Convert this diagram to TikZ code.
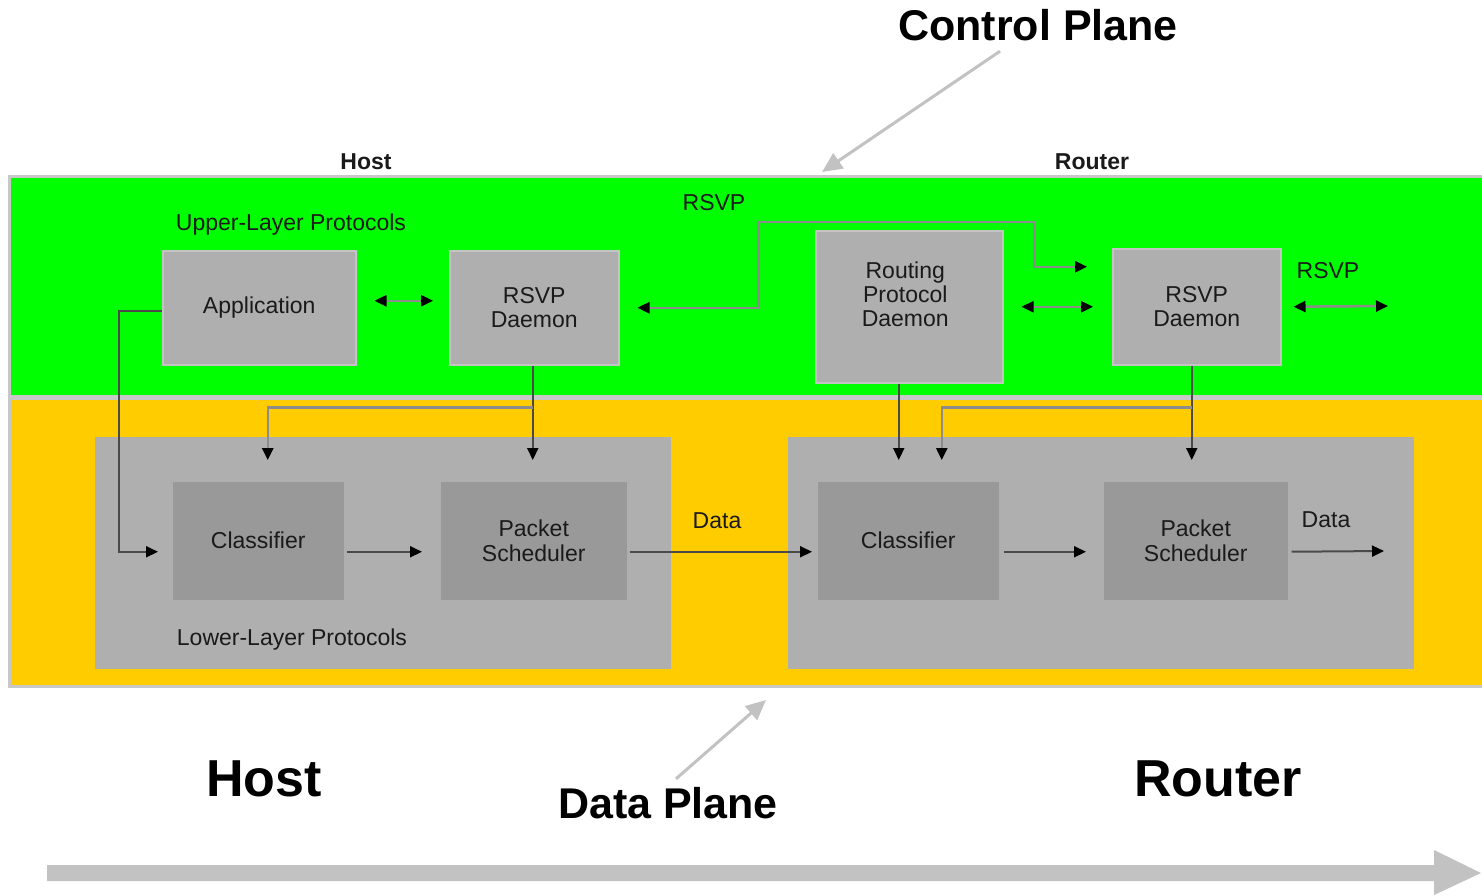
\documentclass[tikz,border=0pt]{standalone}
\usepackage{fontspec}
\setmainfont{Liberation Sans}
\usetikzlibrary{arrows.meta}

\definecolor{ctlgreen}{HTML}{00FF00}
\definecolor{dataorange}{HTML}{FFCC00}
\definecolor{bandedge}{HTML}{C8C8C8}
\definecolor{boxgray}{HTML}{AFAFAF}
\definecolor{boxedge}{HTML}{C4C4C4}
\definecolor{innergray}{HTML}{999999}
\definecolor{wiredark}{HTML}{4A4A4A}
\definecolor{wirelight}{HTML}{8C8C8C}
\definecolor{pointergray}{HTML}{C2C2C2}
\definecolor{labelink}{HTML}{1A1A1A}

\begin{document}
\begin{tikzpicture}[x=0.5pt,y=-0.5pt,
  band/.style={draw=bandedge, line width=1.5pt, inner sep=0pt, anchor=north west},
  ubox/.style={fill=boxgray, draw=boxedge, line width=0.75pt, inner sep=0pt,
    anchor=north west, align=center, text=labelink,
    font=\fontsize{11.5}{12.3}\selectfont},
  lowbox/.style={ubox, draw=none},
  inbox/.style={ubox, fill=innergray, draw=none},
  smalltext/.style={inner sep=0pt, text=labelink, font=\fontsize{11.5}{13}\selectfont},
  smallbold/.style={inner sep=0pt, text=labelink, font=\fontsize{11.5}{13}\selectfont\bfseries},
  bigtext/.style={inner sep=0pt, text=black, font=\fontsize{21.5}{24}\selectfont\bfseries},
  hugetext/.style={inner sep=0pt, text=black, font=\fontsize{26}{30}\selectfont\bfseries},
  arrowwire/.style={draw=wiredark, line width=1pt, -{Triangle[length=6pt,width=5.5pt,color=black]}},
  branchwire/.style={draw=wirelight, line width=1.25pt, -{Triangle[length=6pt,width=5.5pt,color=black]}},
  biarrow/.style={draw=wirelight, line width=1.25pt,
    {Triangle[length=6pt,width=5.5pt,color=black]}-{Triangle[length=6pt,width=5.5pt,color=black]}},
  pointer/.style={draw=pointergray, line width=1.5pt, -{Triangle[length=10pt,width=9pt]}}
]
\useasboundingbox (0,0) rectangle (1482,895);

% control plane and data plane bands
\node[band, fill=ctlgreen, minimum width=737pt, minimum height=110pt] (cplane) at (8,175) {};
\node[band, fill=dataorange, minimum width=737pt, minimum height=144pt] (dplane) at (8,397) {};

% titles above the bands
\node[smallbold] (hostsmall) at (366,162) {Host};
\node[smallbold] (routersmall) at (1092,162) {Router};
\node[bigtext] (ctrl) at (1038,25) {Control Plane};

% upper layer boxes
\node[smalltext] (upper) at (291,225) {Upper-Layer Protocols};
\node[smalltext] (rsvptop) at (714,203) {RSVP};
\node[smalltext] (rsvpside) at (1328,271) {RSVP};
\node[ubox, minimum width=96.5pt, minimum height=57pt] (app) at (162,250) {Application};
\node[ubox, minimum width=84.5pt, minimum height=57pt] (rsvph) at (449,250) {RSVP\\Daemon};
\node[ubox, minimum width=93.5pt, minimum height=76pt,
  label={[yshift=6pt, xshift=-2pt, align=center, text=labelink, inner sep=0pt,
    font=\fontsize{11.5}{12}\selectfont]center:Routing\\Protocol\\Daemon}] (routing) at (815,230) {};
\node[ubox, minimum width=84pt, minimum height=58pt] (rsvpr) at (1112,248) {RSVP\\Daemon};

% lower layer containers and their blocks
\node[lowbox, minimum width=288pt, minimum height=116pt] (lowh) at (94,436) {};
\node[lowbox, minimum width=313pt, minimum height=116pt] (lowr) at (787,436) {};
\node[smalltext] (lower) at (292,640) {Lower-Layer Protocols};
\node[inbox, minimum width=85.5pt, minimum height=59pt] (clh) at (172,481) {Classifier};
\node[inbox, minimum width=93pt, minimum height=59pt] (psh) at (440,481) {Packet\\Scheduler};
\node[inbox, minimum width=90.5pt, minimum height=59pt] (clr) at (817,481) {Classifier};
\node[inbox, minimum width=92pt, minimum height=59pt] (psr) at (1103,481) {Packet\\Scheduler};
\node[smalltext] (datamid) at (717,521) {Data};
\node[smalltext] (dataright) at (1326,520) {Data};

% RSVP signalling between the upper boxes
\draw[biarrow, shorten <=9pt, shorten >=8pt] ([yshift=3.5pt]app.east) -- ([yshift=3.5pt]rsvph.west);
\draw[biarrow, shorten <=9pt, shorten >=12.5pt]
  (rsvph.east) -- ++(139,0) -- ++(0,-86) -- ++(276,0) -- ++(0,45) -- ([yshift=20pt]rsvpr.west);
\draw[biarrow, shorten <=9pt, shorten >=9.5pt] (routing.east) -- (rsvpr.west);
\coordinate (rsvpout) at (1388,306);
\draw[biarrow, shorten <=6pt] (rsvpr.east) -- (rsvpout);

% data path
\draw[arrowwire, shorten >=7pt] ([yshift=-1.5pt]app.west) -- ++(-43,0) |- ([yshift=-5.5pt]clh.west);
\draw[arrowwire, shorten <=1pt, shorten >=9pt] ([yshift=-5.5pt]clh.east) -- ([yshift=-5.5pt]psh.west);
\draw[arrowwire, shorten <=1pt, shorten >=2.5pt] ([yshift=-5.5pt]psh.east) -- ([yshift=-5.5pt]clr.west);
\draw[arrowwire, shorten <=2pt, shorten >=8.5pt] ([yshift=-5.5pt]clr.east) -- ([yshift=-5.5pt]psr.west);
\coordinate (dataout) at (1384,551);
\draw[arrowwire, shorten <=1.5pt] ([yshift=-5.5pt]psr.east) -- (dataout);

% control from daemons down to classifiers and schedulers
\draw[arrowwire, shorten >=10.5pt] ([xshift=-0.75pt]rsvph.south) -- ([xshift=-0.75pt]rsvph.south |- psh.north);
\path ([xshift=-0.75pt]rsvph.south) ++(0,42) coordinate (hostsplit);
\draw[branchwire, shorten >=10.5pt] (hostsplit) -| ([xshift=4.75pt]clh.north);
\draw[arrowwire, shorten >=10.5pt] ([xshift=-5.25pt]routing.south) -- ([xshift=-5.25pt]routing.south |- clr.north);
\draw[arrowwire, shorten >=10.5pt] ([xshift=-2.5pt]rsvpr.south) -- ([xshift=-2.5pt]rsvpr.south |- psr.north);
\path ([xshift=-2.5pt]rsvpr.south) ++(0,42) coordinate (routersplit);
\draw[branchwire, shorten >=10.5pt] (routersplit) -| ([xshift=16.75pt]clr.north);

% plane pointers
\coordinate (cphead) at (822,172);
\draw[pointer] ([xshift=-19pt,yshift=-5pt]ctrl.south) -- (cphead);
\node[bigtext] (dplanelbl) at (668,803) {Data Plane};
\node[hugetext] (hostbig) at (264,779) {Host};
\node[hugetext] (routerbig) at (1218,779) {Router};
\coordinate (dphead) at (766,700);
\draw[pointer] ([xshift=4pt,yshift=4pt]dplanelbl.north) -- (dphead);

% direction arrow along the bottom
\fill[pointergray] (47,865) -- (1434,865) -- (1434,850) -- (1481,873) -- (1434,895)
  -- (1434,881) -- (47,881) -- cycle;
\end{tikzpicture}
\end{document}
